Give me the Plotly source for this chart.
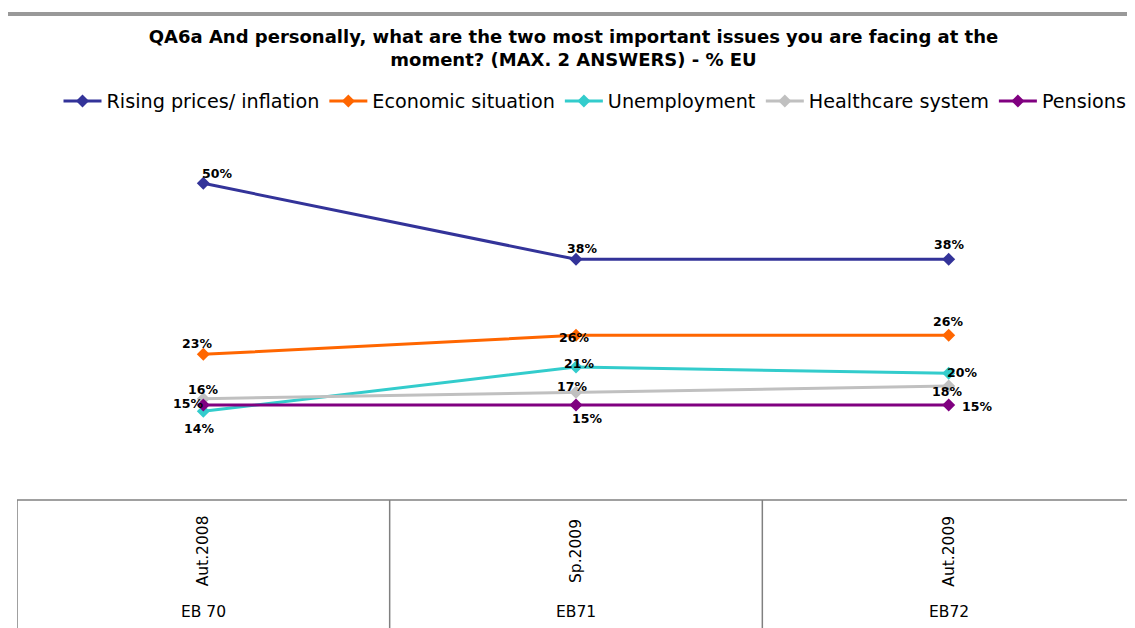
import plotly.graph_objects as go

# ---- data ----
waves = ["Aut.2008", "Sp.2009", "Aut.2009"]
eb_labels = ["EB 70", "EB71", "EB72"]

rising_prices = [50, 38, 38]
economic_situation = [23, 26, 26]
unemployment = [14, 21, 20]
healthcare = [16, 17, 18]
pensions = [15, 15, 15]

series_names = ["Rising prices/ inflation", "Economic situation", "Unemployment",
                "Healthcare system", "Pensions"]
series_values = [rising_prices, economic_situation, unemployment, healthcare, pensions]

# ---- styles ----
colors = ["#333399", "#FF6600", "#33CCCC", "#C0C0C0", "#800080"]
# label pixel offsets (xshift, yshift) per series / point
label_shifts = [
    [(14, 10), (6, 11), (0, 15)],
    [(-6, 11), (-2, -2), (-1, 14)],
    [(-4, -17), (3, 4), (13, 1)],
    [(0, 9), (-4, 6), (-2, -5)],
    [(-15, 2), (11, -13), (28, -1)],
]

OFF = 8  # page body margin
W, H = 1135 - OFF, 628 - OFF
ML, MR, MT, MB = 17 - OFF, 0, 120 - OFF, 128
plot_h = H - MT - MB
plot_w = W - ML - MR


def py(screen_y):
    """screen pixel y -> paper y"""
    return ((H - MB) - (screen_y - OFF)) / plot_h


def px(screen_x):
    return ((screen_x - OFF) - ML) / plot_w


x_idx = list(range(len(waves)))

fig = go.Figure()
for name, vals, col in zip(series_names, series_values, colors):
    fig.add_trace(go.Scatter(
        x=x_idx, y=vals, name=name, mode="lines+markers",
        line=dict(color=col, width=3),
        marker=dict(symbol="diamond", size=10, color=col),
        hoverinfo="skip",
    ))

annotations = []
for vals, shifts in zip(series_values, label_shifts):
    for xi, v, (dx, dy) in zip(x_idx, vals, shifts):
        annotations.append(dict(
            x=xi, y=v, xref="x", yref="y", text=f"<b>{v}%</b>", showarrow=False,
            xshift=dx, yshift=dy, xanchor="center", yanchor="middle",
            font=dict(family="DejaVu Sans", size=12.5, color="#000000"),
        ))

# table text below the axis
for xi, w, eb in zip(x_idx, waves, eb_labels):
    annotations.append(dict(
        x=xi, y=py(551), xref="x", yref="paper", text=w,
        showarrow=False, textangle=-90, xanchor="center", yanchor="middle",
        font=dict(family="DejaVu Sans", size=15.5, color="#000000"),
    ))
    annotations.append(dict(
        x=xi, y=py(612), xref="x", yref="paper", text=eb,
        showarrow=False, xanchor="center", yanchor="middle",
        font=dict(family="DejaVu Sans", size=15.5, color="#000000"),
    ))

shapes = []
# table grid
shapes.append(dict(type="line", xref="paper", yref="paper", x0=0, x1=1, y0=0, y1=0,
                   line=dict(color="#808080", width=1.5)))
for b in [-0.5, 0.5, 1.5]:
    shapes.append(dict(type="line", xref="x", yref="paper", x0=b, x1=b, y0=0,
                       y1=-(MB + 5) / plot_h, line=dict(color="#808080", width=1.5)))
# top grey bar
shapes.append(dict(type="line", xref="paper", yref="paper",
                   x0=px(8), x1=1.0, y0=py(14), y1=py(14),
                   line=dict(color="#999999", width=4)))

fig.update_layout(
    width=W, height=H,
    margin=dict(l=ML, r=MR, t=MT, b=MB),
    paper_bgcolor="white", plot_bgcolor="white",
    title=dict(
        text="<b>QA6a And personally, what are the two most important issues you are facing at the<br>moment? (MAX. 2 ANSWERS) - % EU</b>",
        x=(573.5 - OFF) / W, xanchor="center", y=1 - (43 - OFF) / H, yanchor="middle",
        font=dict(family="DejaVu Sans", size=18, color="#000000"),
    ),
    legend=dict(
        orientation="h", x=px(595), xanchor="center",
        y=py(101), yanchor="middle", itemwidth=38,
        font=dict(family="DejaVu Sans", size=19.2, color="#000000"),
        bgcolor="rgba(0,0,0,0)", itemclick=False, itemdoubleclick=False,
    ),
    xaxis=dict(range=[-0.5, 2.5], showgrid=False, zeroline=False, showticklabels=False,
               showline=False, ticks=""),
    yaxis=dict(range=[0, 60], showgrid=False, zeroline=False, showticklabels=False,
               showline=False, ticks=""),
    annotations=annotations,
    shapes=shapes,
    showlegend=True,
)

fig.write_html("out.html")
